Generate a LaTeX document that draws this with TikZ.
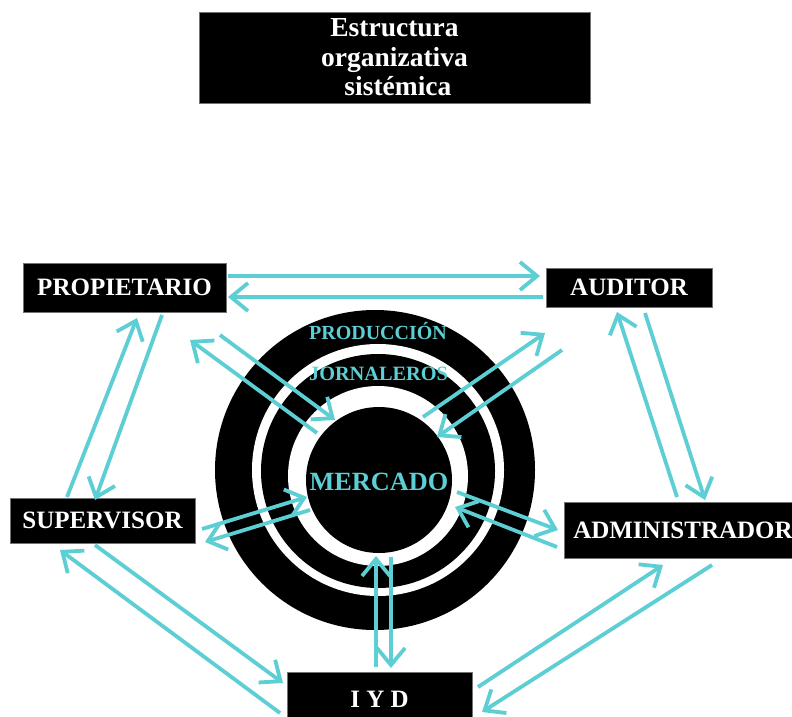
\documentclass[tikz,border=0pt]{standalone}
\usepackage{fontspec}
\setmainfont{Liberation Serif}
\usetikzlibrary{arrows.meta}
\definecolor{cy}{RGB}{92,206,212}
\begin{document}
\begin{tikzpicture}[x=1pt,y=-1pt,
  box/.style={fill=black, draw=black!55, line width=0.6pt, text=white,
    font=\bfseries\fontsize{25}{28}\selectfont, inner sep=0pt},
  arr/.style={draw=cy, line width=3.8pt, -{Straight Barb[length=17pt,width=28pt]}},
  ringtext/.style={text=cy, inner sep=0pt, anchor=base}]
\useasboundingbox (0,0) rectangle (792,717);
\fill[white] (0,0) rectangle (792,717);
% title
\node[box, minimum width=391pt, minimum height=91pt, align=center,
  font=\bfseries\fontsize{27.5}{29.5}\selectfont] (title) at (394.5,57.5)
  {Estructura\\organizativa\\\ sistémica};
% rings
\fill[black] (375,470) circle[radius=160];
\fill[white] (378,470) circle[radius=126];
\fill[black] (378,471) circle[radius=117];
\fill[white] (378,476) circle[radius=90];
\node[circle, fill=black, minimum size=146pt, inner sep=0pt] (merc) at (379,480) {};
\node[ringtext, font=\bfseries\fontsize{20}{22}\selectfont] (prod) at (378,339) {PRODUCCIÓN};
\node[ringtext, font=\bfseries\fontsize{20.3}{22}\selectfont] (jorn) at (378.5,380) {JORNALEROS};
\node[ringtext, font=\bfseries\fontsize{26.3}{28}\selectfont] (mtext) at (379,490) {MERCADO};
% boxes
\node[box, minimum width=203pt, minimum height=49pt] (prop) at (124.5,287.5) {PROPIETARIO};
\node[box, minimum width=166pt, minimum height=39pt] (aud) at (629,287.5) {AUDITOR};
\node[box, minimum width=185pt, minimum height=45pt] (sup) at (102.5,520.5) {SUPERVISOR};
\node[box, minimum width=238pt, minimum height=56pt] (adm) at (683,530) {ADMINISTRADOR};
\node[box, minimum width=185pt, minimum height=54pt] (iyd) at (379.5,699) {I Y D};
% arrow end points
\coordinate (pa0) at (228,276); \coordinate (pa1) at (540,276);
\coordinate (ap0) at (543,297); \coordinate (ap1) at (228,297);
\coordinate (ps0) at (162,315); \coordinate (ps1) at (95,500);
\coordinate (sp0) at (67,497);  \coordinate (sp1) at (137,318);
\coordinate (mp0) at (317,433); \coordinate (mp1) at (190,340);
\coordinate (pm0) at (220,335); \coordinate (pm1) at (335,420);
\coordinate (ma0) at (423,417); \coordinate (ma1) at (545,333);
\coordinate (am0) at (562,350); \coordinate (am1) at (437,437);
\coordinate (da0) at (677,497); \coordinate (da1) at (617,312);
\coordinate (ad0) at (645,313); \coordinate (ad1) at (705,500);
\coordinate (sm0) at (202,529); \coordinate (sm1) at (307,497);
\coordinate (ms0) at (310,510); \coordinate (ms1) at (205,542);
\coordinate (md0) at (457,492); \coordinate (md1) at (558,530);
\coordinate (dm0) at (557,547); \coordinate (dm1) at (455,507);
\coordinate (im0) at (376,667); \coordinate (im1) at (376,556);
\coordinate (mi0) at (391,557); \coordinate (mi1) at (391,668);
\coordinate (si0) at (95,545);  \coordinate (si1) at (283,683);
\coordinate (is0) at (280,713); \coordinate (is1) at (60,550);
\coordinate (id0) at (478,687); \coordinate (id1) at (663,565);
\coordinate (di0) at (712,565); \coordinate (di1) at (482,712);
% arrows
\draw[arr] (pa0) -- (pa1);
\draw[arr] (ap0) -- (ap1);
\draw[arr] (ps0) -- (ps1);
\draw[arr] (sp0) -- (sp1);
\draw[arr] (mp0) -- (mp1);
\draw[arr] (pm0) -- (pm1);
\draw[arr] (ma0) -- (ma1);
\draw[arr] (am0) -- (am1);
\draw[arr] (da0) -- (da1);
\draw[arr] (ad0) -- (ad1);
\draw[arr] (sm0) -- (sm1);
\draw[arr] (ms0) -- (ms1);
\draw[arr] (md0) -- (md1);
\draw[arr] (dm0) -- (dm1);
\draw[arr] (im0) -- (im1);
\draw[arr] (mi0) -- (mi1);
\draw[arr] (si0) -- (si1);
\draw[arr] (is0) -- (is1);
\draw[arr] (id0) -- (id1);
\draw[arr] (di0) -- (di1);
\end{tikzpicture}
\end{document}
